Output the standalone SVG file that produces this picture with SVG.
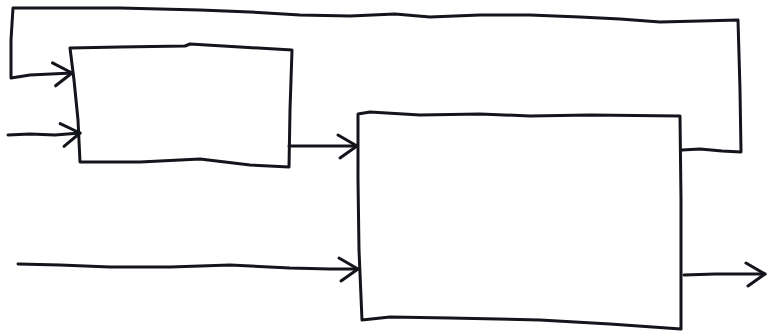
<svg xmlns="http://www.w3.org/2000/svg" width="770" height="333" viewBox="0 0 770 333">
<style>
.ln{fill:none;stroke:#14141c;stroke-width:3;stroke-linejoin:round;stroke-linecap:round}
</style>
<defs>
<marker id="ah" markerUnits="userSpaceOnUse" markerWidth="30" markerHeight="30" viewBox="-22 -15 26 30" refX="0" refY="0" orient="auto">
<path d="M-19,-11 L0,0 L-17,12" fill="none" stroke="#14141c" stroke-width="3" stroke-linecap="round" stroke-linejoin="round"/>
</marker>
</defs>
<rect width="770" height="333" fill="#ffffff"/>
<g id="block1">
<path class="ln" d="M70,48 L120,47 L185,46 L190,44 L240,47 L292,50 L290,110 L289,167 L250,165 L200,159 L140,162 L80,162 L78,120 L74,80 Z"/>
</g>
<g id="block2">
<path class="ln" d="M358,114 L370,112 L420,115 L480,114 L530,116 L590,115 L680,116 L681,200 L681,270 L681,329 L610,324 L540,320 L450,318 L390,317 L362,320 L359,250 L358,180 Z"/>
</g>
<g id="connectors">
<path class="ln" d="M682,150 L700,149 L722,151 L741,152 L740,90 L738,20 L700,21 L660,22 L620,19 L580,17 L530,15 L480,15 L430,17 L395,14 L350,16 L300,15 L250,12 L200,10 L120,8 L40,8 L13,8 L11,40 L11,78 L30,75 L72,73" marker-end="url(#ah)"/>
<path class="ln" d="M8,135 L30,134 L55,135 L80,133" marker-end="url(#ah)"/>
<path class="ln" d="M289,146 L320,146 L357,146" marker-end="url(#ah)"/>
<path class="ln" d="M18,264 L60,265 L110,267 L170,267 L230,265 L290,268 L330,269 L358,269" marker-end="url(#ah)"/>
<path class="ln" d="M684,275 L715,274 L765,274" marker-end="url(#ah)"/>
</g>
</svg>
